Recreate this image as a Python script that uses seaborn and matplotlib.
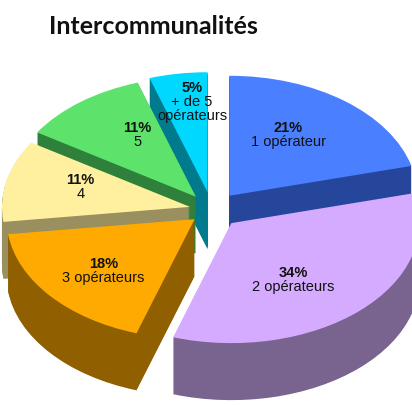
import matplotlib
matplotlib.use('Agg')
import matplotlib.pyplot as plt
import seaborn as sns
import numpy as np

# ---- data ----
title = 'Intercommunalités'
categories = ['1 opérateur', '2 opérateurs', '3 opérateurs', '4', '5', '+ de 5\nopérateurs']
shares = [21, 34, 18, 11, 11, 5]
pct_labels = ['21%', '34%', '18%', '11%', '11%', '5%']

# ---- style / layout ----
top_colors = ['#4a7fff', '#d5abff', '#ffaa00', '#fff0a0', '#5de36b', '#00d8ff']
side_colors = ['#26469b', '#79638f', '#8f5f00', '#9a8f5e', '#2e803a', '#007a8c']
explode = [0.15, 0.15, 0.12, 0.12, 0.14, 0.15]
label_r = [0.61, 0.57, 0.64, 0.61, 0.61, 0.83]
label_dtheta = [6.8, -7.6, 1.1, -4.4, -7.3, -3.3]

sns.set_theme(style='white')
plt.rcParams['font.family'] = ['Liberation Sans', 'DejaVu Sans']

W, H = 412, 406
fig = plt.figure(figsize=(W / 100, H / 100), dpi=100)
ax = fig.add_axes([0, 0, 1, 1])

cx, cy = 212, 211     # pie centre in pixels (from top)
rx, ry = 188, 120     # ellipse radii in pixels
depth = 57            # extrusion depth in pixels

pal_side = sns.color_palette(side_colors)
pal_top = sns.color_palette(top_colors)

for d in np.arange(depth, 0, -1.0):
    ax.pie(shares, explode=explode, colors=pal_side, startangle=90,
           counterclock=False, center=(0, -d / ry),
           wedgeprops=dict(linewidth=0))

wedges, _ = ax.pie(shares, explode=explode, colors=pal_top, startangle=90,
                   counterclock=False, center=(0, 0),
                   wedgeprops=dict(linewidth=0))

for w, pct, cat, r, dt in zip(wedges, pct_labels, categories, label_r, label_dtheta):
    th = np.deg2rad((w.theta1 + w.theta2) / 2 + dt)
    x = w.center[0] + r * np.cos(th)
    y = w.center[1] + r * np.sin(th)
    ax.annotate(pct, (x, y), xytext=(0, -0.5), textcoords='offset points',
                ha='center', va='bottom', fontsize=10.5, fontweight='bold',
                color='#111111')
    ax.annotate(cat, (x, y), xytext=(0, -0.5), textcoords='offset points',
                ha='center', va='top', fontsize=10.5, color='#111111',
                linespacing=1.05)

ax.set_xlim(-cx / rx, (W - cx) / rx)
ax.set_ylim(-(H - cy) / ry, cy / ry)
ax.set_aspect('auto')
ax.axis('off')

fig.text(153 / W, 1 - 26 / H, title, ha='center', va='center',
         fontsize=18, fontweight='bold', family=['Lato', 'DejaVu Sans'],
         color='#111111')

fig.savefig('out.png', dpi=100, facecolor='white')
